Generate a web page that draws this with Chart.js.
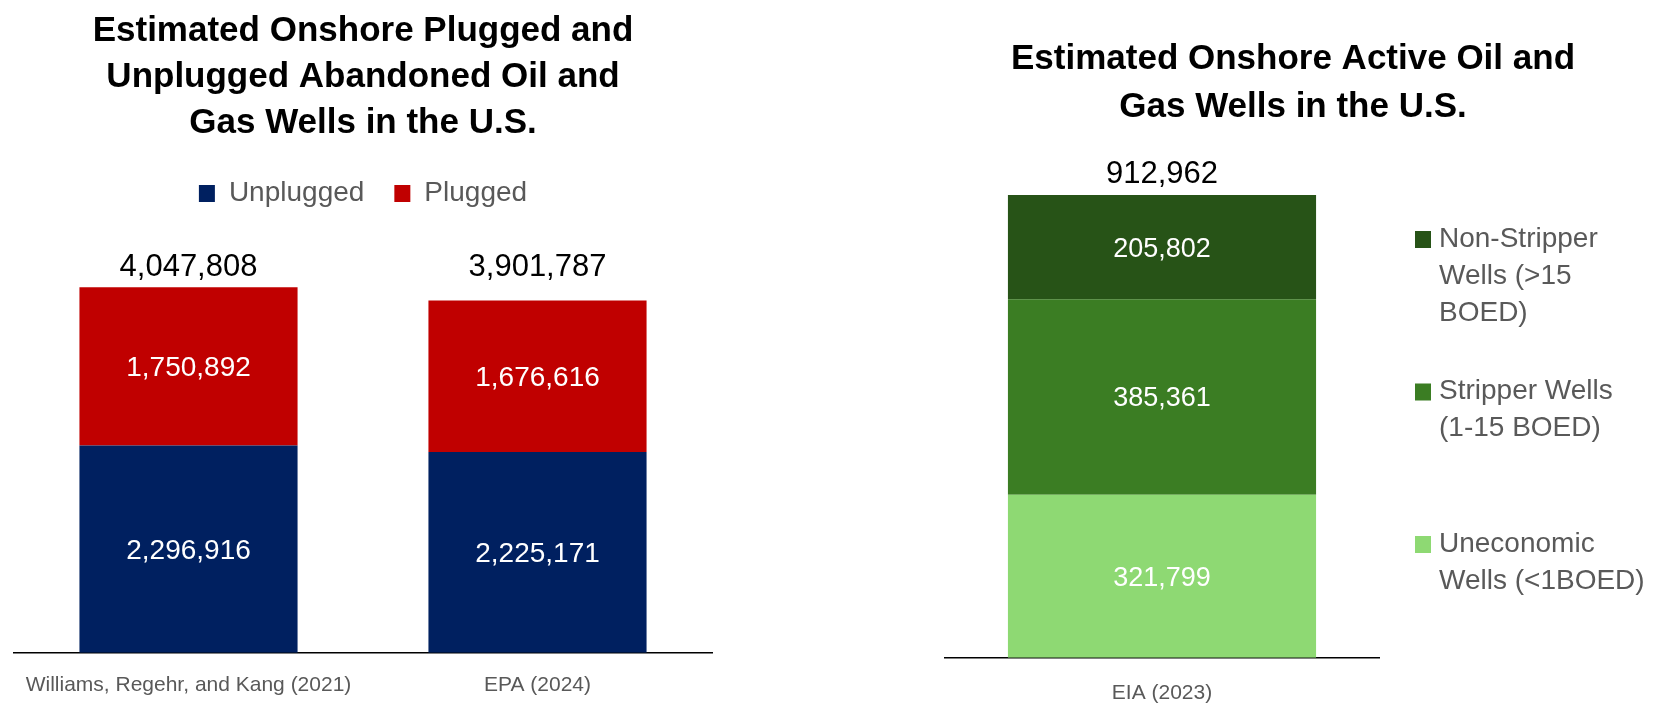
<!DOCTYPE html>
<html>
<head>
<meta charset="utf-8">
<title>Onshore Oil and Gas Wells in the U.S.</title>
<script src="https://cdn.jsdelivr.net/npm/chart.js@4.4.1/dist/chart.umd.min.js"></script>
<style>
  html, body { margin: 0; padding: 0; background: #fff; overflow: hidden; }
  #wrap { position: relative; width: 1672px; height: 708px; overflow: hidden; }
  #abandonedBox { position: absolute; left: 0; top: 0; }
  #activeBox { position: absolute; left: 914px; top: 0; }
</style>
</head>
<body>
<div id="wrap">
  <div id="abandonedBox"><canvas id="abandoned" width="728" height="730"></canvas></div>
  <div id="activeBox"><canvas id="active" width="758" height="730"></canvas></div>
</div>
<script>
// Pozos abandonados (tapados y sin tapar)
const abandonedSources = ['Williams, Regehr, and Kang (2021)', 'EPA (2024)'];
const unplugged = [2296916, 2225171];
const plugged = [1750892, 1676616];

// Pozos activos (EIA)
const activeSources = ['EIA (2023)'];
const uneconomic = [321799];
const stripper = [385361];
const nonStripper = [205802];
const uneconomicLines = ['Uneconomic', 'Wells (<1BOED)'];
const stripperLines = ['Stripper Wells', '(1-15 BOED)'];
const nonStripperLines = ['Non-Stripper', 'Wells (>15', 'BOED)'];

const FONT = '"Liberation Sans", Arial, sans-serif';
const GRIS = '#595959';
const fmt = v => v.toLocaleString('en-US');

// Etiquetas de valor dentro de cada segmento y total arriba de las barras
const etiquetas = {
    id: 'etiquetas',
    afterDatasetsDraw(chart, args, opts) {
        const ctx = chart.ctx;
        const totals = [];
        ctx.save();
        ctx.textAlign = 'center';
        ctx.textBaseline = 'middle';
        chart.data.datasets.forEach((ds, i) => {
            chart.getDatasetMeta(i).data.forEach((bar, j) => {
                ctx.font = opts.valueFont;
                ctx.fillStyle = '#ffffff';
                ctx.fillText(fmt(ds.data[j]), bar.x, (bar.y + bar.base) / 2 + 2);
                totals[j] = (totals[j] || 0) + ds.data[j];
            });
        });
        // los totales van a la misma altura, sobre la barra mas alta
        const top = chart.getDatasetMeta(chart.data.datasets.length - 1);
        const yTotal = Math.min(...top.data.map(bar => bar.y)) - opts.offset;
        ctx.font = opts.totalFont;
        ctx.fillStyle = '#000000';
        top.data.forEach((bar, j) => ctx.fillText(fmt(totals[j]), bar.x, yTotal));
        ctx.restore();
    }
};

// Leyenda a la derecha con texto en varias lineas
const leyendaLateral = {
    id: 'leyendaLateral',
    afterDraw(chart, args, opts) {
        const ctx = chart.ctx;
        const items = chart.data.datasets.slice().reverse();
        ctx.save();
        ctx.font = opts.font;
        ctx.textAlign = 'left';
        ctx.textBaseline = 'middle';
        items.forEach((ds, k) => {
            const y0 = opts.top + k * opts.step;
            ctx.fillStyle = ds.backgroundColor;
            ctx.fillRect(opts.x, y0 - 8, 16, 17);
            ctx.fillStyle = GRIS;
            ds.legendLines.forEach((t, n) => ctx.fillText(t, opts.x + 24, y0 + n * opts.lineHeight));
        });
        ctx.restore();
    }
};

// Grafico de pozos abandonados
new Chart(document.getElementById('abandoned'), {
    type: 'bar',
    data: {
        labels: abandonedSources,
        datasets: [
            { label: 'Unplugged', data: unplugged, backgroundColor: '#002060' },
            { label: 'Plugged', data: plugged, backgroundColor: '#C00000' }
        ]
    },
    options: {
        responsive: false,
        animation: false,
        layout: { padding: { left: 14, right: 16, bottom: 12 } },
        scales: {
            x: {
                stacked: true,
                grid: { display: false, drawTicks: false },
                border: { display: true, color: '#000000', width: 1.5 },
                ticks: { color: GRIS, font: { family: FONT, size: 21 }, padding: 20 }
            },
            y: { stacked: true, display: false, min: 0, max: 4820000 }
        },
        datasets: { bar: { categoryPercentage: 1, barPercentage: 0.625, borderWidth: 0 } },
        plugins: {
            title: {
                display: true,
                text: ['Estimated Onshore Plugged and', 'Unplugged Abandoned Oil and', 'Gas Wells in the U.S.'],
                color: '#000000',
                font: { family: FONT, size: 35, weight: 'bold', lineHeight: 1.32 },
                padding: { top: 8, bottom: 3 }
            },
            legend: {
                display: true,
                labels: { color: GRIS, font: { family: FONT, size: 28 }, boxWidth: 16, boxHeight: 17, padding: 30 }
            },
            tooltip: { enabled: false },
            etiquetas: { valueFont: '28px ' + FONT, totalFont: '31px ' + FONT, offset: 20 }
        }
    },
    plugins: [etiquetas]
});

// Grafico de pozos activos
new Chart(document.getElementById('active'), {
    type: 'bar',
    data: {
        labels: activeSources,
        datasets: [
            { label: 'Uneconomic Wells (<1BOED)', legendLines: uneconomicLines, data: uneconomic, backgroundColor: '#8ED973' },
            { label: 'Stripper Wells (1-15 BOED)', legendLines: stripperLines, data: stripper, backgroundColor: '#3B7D23' },
            { label: 'Non-Stripper Wells (>15 BOED)', legendLines: nonStripperLines, data: nonStripper, backgroundColor: '#275317' }
        ]
    },
    options: {
        responsive: false,
        animation: false,
        layout: { padding: { left: 31, right: 31, bottom: 1 } },
        scales: {
            x: {
                stacked: true,
                grid: { display: false, drawTicks: false },
                border: { display: true, color: '#000000', width: 1.5 },
                ticks: { color: GRIS, font: { family: FONT, size: 21 }, padding: 23 }
            },
            y: {
                stacked: true,
                position: 'right',
                min: 0,
                max: 1000000,
                ticks: { display: false },
                grid: { display: false, drawTicks: false },
                border: { display: false },
                // espacio reservado para la leyenda lateral
                afterFit: scale => { scale.width = 262; }
            }
        },
        datasets: { bar: { categoryPercentage: 1, barPercentage: 0.71, borderWidth: 0 } },
        plugins: {
            title: {
                display: true,
                text: ['Estimated Onshore Active Oil and', 'Gas Wells in the U.S.'],
                color: '#000000',
                font: { family: FONT, size: 35, weight: 'bold', lineHeight: 1.37 },
                padding: { top: 35, bottom: 20 }
            },
            legend: { display: false },
            tooltip: { enabled: false },
            etiquetas: { valueFont: '27px ' + FONT, totalFont: '31px ' + FONT, offset: 21 },
            leyendaLateral: { x: 501, top: 239, step: 152.5, lineHeight: 37, font: '28px ' + FONT }
        }
    },
    plugins: [etiquetas, leyendaLateral]
});
</script>
</body>
</html>
